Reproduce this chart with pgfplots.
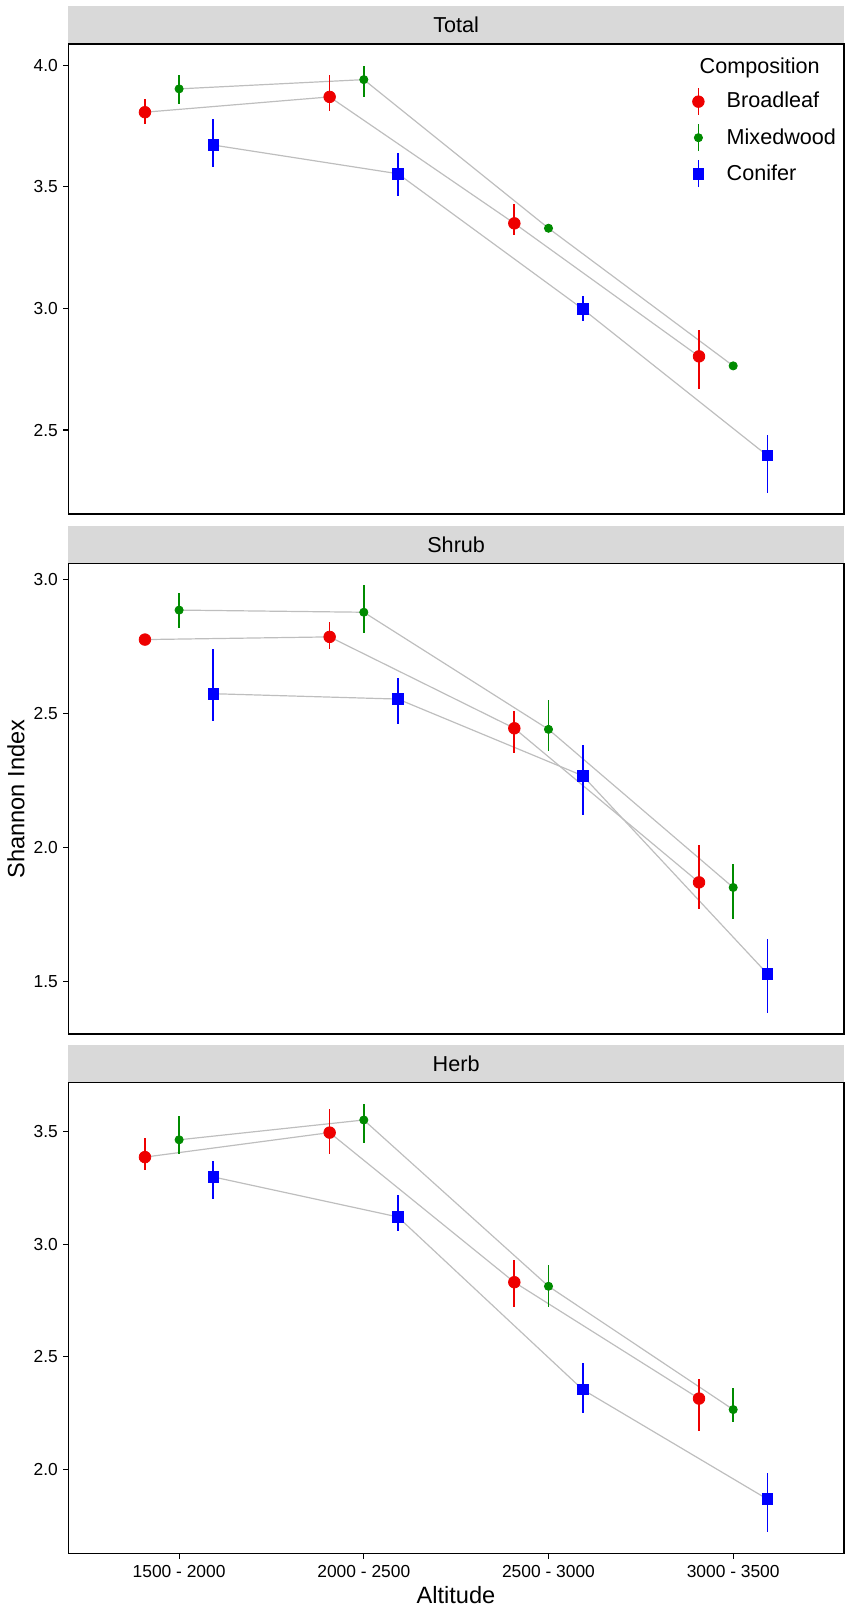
\documentclass[border=0pt]{standalone}
\usepackage{pgfplots}
\pgfplotsset{compat=1.18}
\usepackage{pgfplotstable}
\usepackage{fontspec}
\setmainfont{Liberation Sans}

\definecolor{bred}{RGB}{238,0,0}
\definecolor{bgreen}{RGB}{0,139,0}
\definecolor{bblue}{RGB}{0,0,255}
\definecolor{linegray}{RGB}{190,190,190}
\definecolor{stripgray}{RGB}{217,217,217}

% cat: 1 = 1500-2000, 2 = 2000-2500, 3 = 2500-3000, 4 = 3000-3500
% bl = Broadleaf, mw = Mixedwood, cf = Conifer (mean, lower, upper)
\pgfplotstableread{
cat bl    bllo  blhi  mw    mwlo  mwhi  cf    cflo  cfhi
1   3.807 3.760 3.860 3.903 3.842 3.959 3.672 3.583 3.779
2   3.870 3.812 3.959 3.941 3.871 3.998 3.554 3.461 3.639
3   3.350 3.302 3.430 3.330 3.322 3.338 2.998 2.950 3.051
4   2.803 2.670 2.910 2.764 2.758 2.770 2.395 2.243 2.480
}\tabTotal

\pgfplotstableread{
cat bl    bllo  blhi  mw    mwlo  mwhi  cf    cflo  cfhi
1   2.775 2.768 2.782 2.885 2.819 2.949 2.573 2.470 2.740
2   2.785 2.740 2.840 2.877 2.801 2.979 2.553 2.461 2.631
3   2.444 2.351 2.509 2.440 2.360 2.550 2.267 2.121 2.381
4   1.869 1.770 2.010 1.850 1.731 1.939 1.528 1.382 1.659
}\tabShrub

\pgfplotstableread{
cat bl    bllo  blhi  mw    mwlo  mwhi  cf    cflo  cfhi
1   3.387 3.330 3.470 3.464 3.400 3.570 3.299 3.201 3.371
2   3.496 3.400 3.600 3.552 3.451 3.622 3.121 3.057 3.219
3   2.831 2.720 2.929 2.813 2.720 2.908 2.354 2.249 2.470
4   2.314 2.169 2.399 2.265 2.209 2.359 1.867 1.722 1.984
}\tabHerb

\pgfplotsset{
  panel/.style={
    scale only axis,
    width=387.85pt,
    xmin=0.4, xmax=4.6,
    axis line style={line width=0.7pt, black},
    every tick/.style={line width=0.6pt, black},
    tick align=outside,
    major tick length=2.5pt,
    tick pos=left,
    yticklabel style={font=\fontsize{8.7}{10}\selectfont, inner sep=0pt, xshift=-2.5pt,
      /pgf/number format/.cd, fixed, fixed zerofill, precision=1, assume math mode=true},
    xticklabel style={font=\fontsize{8.7}{10}\selectfont, inner sep=0pt, yshift=-3.15pt},
    clip=false,
  },
}

\newcommand{\seriesline}[3]{% table, column, offset
  \addplot[linegray, line width=0.6pt, forget plot]
    table[x expr=\thisrow{cat}+#3, y=#2]{#1};}
\newcommand{\seriespts}[6]{% table, col, lo, hi, offset, style
  \addplot[#6, only marks, forget plot,
    error bars/.cd, y dir=both, y explicit, error mark=none,
    error bar style={line width=0.85pt, solid}]
    table[x expr=\thisrow{cat}+#5, y=#2,
      y error plus expr=\thisrow{#4}-\thisrow{#2},
      y error minus expr=\thisrow{#2}-\thisrow{#3}]{#1};}
\newcommand{\panelplots}[1]{%
  \seriesline{#1}{bl}{-0.185}
  \seriesline{#1}{mw}{0}
  \seriesline{#1}{cf}{0.185}
  \seriespts{#1}{bl}{bllo}{blhi}{-0.185}{bred, mark=*, mark size=2.9pt}
  \seriespts{#1}{mw}{mwlo}{mwhi}{0}{bgreen, mark=*, mark size=2.05pt}
  \seriespts{#1}{cf}{cflo}{cfhi}{0.185}{bblue, mark=square*, mark size=2.63pt}
}
\newcommand{\keyimage}[3]{%
  \addlegendimage{legend image code/.code={
    \draw[#1, line width=0.85pt] (0pt,-6.67pt) -- (0pt,6.67pt);
    \draw[#1, mark=#2, mark size=#3] plot coordinates {(0pt,0pt)};}}}

\begin{document}
\begin{tikzpicture}
\useasboundingbox (0,0) rectangle (425.5pt,805pt);

\begin{axis}[panel, name=p1, at={(34.15pt,548pt)}, anchor=south west,
  height=235pt, ymin=2.155, ymax=4.0876, ytick={2.5,3,3.5,4}, xtick=\empty,
  legend cell align=left,
  legend style={draw=none, fill=none, inner sep=0pt,
    at={(axis description cs:0.8043,0.8006)}, anchor=west,
    font=\fontsize{10.8}{12}\selectfont, row sep=3.84pt,
    nodes={inner sep=0pt, anchor=west},
    /tikz/every odd column/.append style={column sep=11.25pt}}]
\panelplots{\tabTotal}
\keyimage{bred}{*}{2.9pt}\addlegendentry{Broadleaf}
\keyimage{bgreen}{*}{2.05pt}\addlegendentry{Mixedwood}
\keyimage{bblue}{square*}{2.63pt}\addlegendentry{Conifer}
\end{axis}

\begin{axis}[panel, name=p2, at={(34.15pt,288pt)}, anchor=south west,
  height=235.15pt, ymin=1.3033, ymax=3.0582, ytick={1.5,2,2.5,3}, xtick=\empty]
\panelplots{\tabShrub}
\end{axis}

\begin{axis}[panel, name=p3, at={(34.15pt,28.15pt)}, anchor=south west,
  height=235.5pt, ymin=1.6245, ymax=3.7178, ytick={2,2.5,3,3.5},
  xtick={1,2,3,4},
  xticklabels={1500 - 2000, 2000 - 2500, 2500 - 3000, 3000 - 3500}]
\panelplots{\tabHerb}
\end{axis}

\foreach \p/\t in {p1/Total, p2/Shrub, p3/Herb}{
  \fill[stripgray] ([yshift=0.35pt]\p.north west) rectangle ([yshift=19pt]\p.north east);
  \node[font=\fontsize{10.8}{12}\selectfont, inner sep=0pt] at ([yshift=9.7pt]\p.north) {\t};
}

\node[font=\fontsize{10.8}{13}\selectfont, inner sep=0pt, anchor=base west] at (349.65pt,768pt) {Composition};

\node[font=\fontsize{11.8}{14}\selectfont, inner sep=0pt, rotate=90] at (8pt,405.5pt) {Shannon Index};
\node[font=\fontsize{11.8}{14}\selectfont, inner sep=0pt, anchor=base] at (228pt,3.35pt) {Altitude};
\end{tikzpicture}
\end{document}
